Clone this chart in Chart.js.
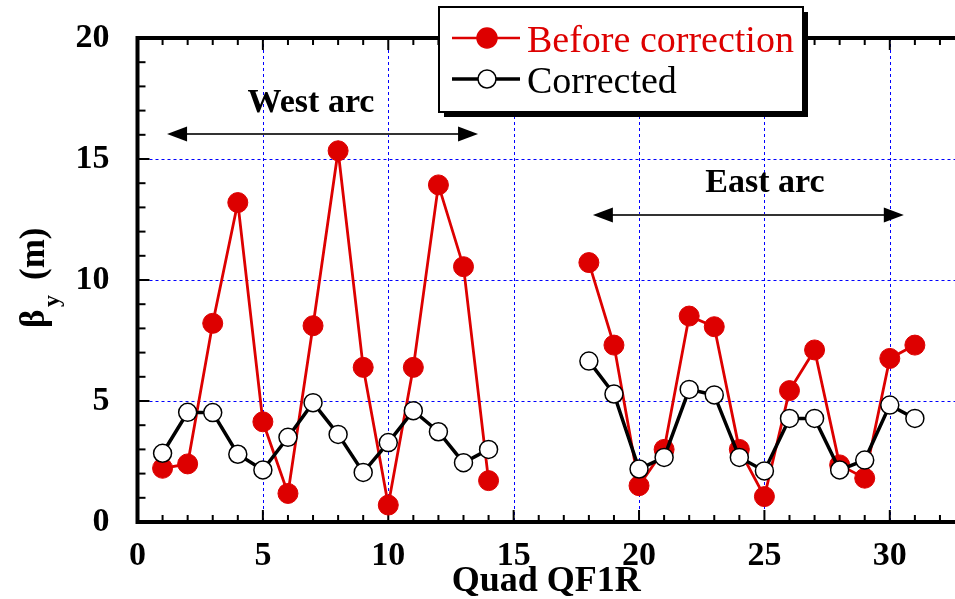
<!DOCTYPE html>
<html>
<head>
<meta charset="utf-8">
<script src="https://cdn.jsdelivr.net/npm/chart.js@4/dist/chart.umd.min.js"></script>
<style>
  html, body { margin: 0; padding: 0; background: #fff; }
  #wrap { width: 955px; height: 599px; }
</style>
</head>
<body>
<div id="wrap"><canvas id="betachart" width="955" height="599"></canvas></div>
<script>
// quad index along the ring (15-17 have no data)
const quads = [1, 2, 3, 4, 5, 6, 7, 8, 9, 10, 11, 12, 13, 14, 15, 16, 17,
               18, 19, 20, 21, 22, 23, 24, 25, 26, 27, 28, 29, 30, 31];
const beforeCorr = [2.22, 2.40, 8.21, 13.2, 4.14, 1.18, 8.11, 15.34, 6.39, 0.70, 6.39, 13.93, 10.55, 1.71,
                    null, null, null,
                    10.72, 7.31, 1.50, 3.00, 8.51, 8.07, 3.00, 1.05, 5.43, 7.11, 2.36, 1.81, 6.76, 7.31];
const corrected = [2.84, 4.53, 4.52, 2.80, 2.15, 3.50, 4.93, 3.62, 2.05, 3.28, 4.60, 3.73, 2.45, 3.00,
                   null, null, null,
                   6.65, 5.29, 2.19, 2.67, 5.48, 5.25, 2.67, 2.11, 4.28, 4.28, 2.15, 2.56, 4.83, 4.28];
const xTicks = [0, 5, 10, 15, 20, 25, 30];
const yTicks = [0, 5, 10, 15, 20];
// arc labels: [text, x from, x to, arrow y, text x, text y]
const arcs = [
  ['West arc', 1.18, 13.58, 16.03, 6.92, 16.94],
  ['East arc', 18.16, 30.56, 12.69, 25.02, 13.64]
];

const RED = '#dd0000';
const FONT = '"Liberation Serif", "Times New Roman", serif';

function pts(ys) {
  return quads.map((q, i) => ({x: q, y: ys[i]}));
}

const decor = {
  id: 'decor',
  beforeDatasetsDraw(chart) {
    const {ctx, chartArea: a, scales: {x, y}} = chart;
    ctx.save();
    // dotted blue grid
    ctx.strokeStyle = '#0000ff';
    ctx.lineWidth = 1;
    ctx.setLineDash([3, 3]);
    xTicks.slice(1).forEach(v => {
      const px = Math.round(x.getPixelForValue(v)) + 0.5;
      ctx.beginPath(); ctx.moveTo(px, a.top); ctx.lineTo(px, a.bottom); ctx.stroke();
    });
    yTicks.slice(1, -1).forEach(v => {
      const py = Math.round(y.getPixelForValue(v)) + 0.5;
      ctx.beginPath(); ctx.moveTo(a.left, py); ctx.lineTo(a.right, py); ctx.stroke();
    });
    ctx.setLineDash([]);
    ctx.strokeStyle = '#000';
    // minor and major ticks, inward
    ctx.lineWidth = 2;
    for (let v = 1; v <= 32; v++) {
      const px = x.getPixelForValue(v);
      const len = v % 5 === 0 ? 12 : 7;
      ctx.beginPath();
      ctx.moveTo(px, a.bottom); ctx.lineTo(px, a.bottom - len);
      ctx.moveTo(px, a.top); ctx.lineTo(px, a.top + len);
      ctx.stroke();
    }
    for (let v = 1; v < 20; v++) {
      const py = y.getPixelForValue(v);
      const len = v % 5 === 0 ? 12 : 8;
      ctx.beginPath();
      ctx.moveTo(a.left, py); ctx.lineTo(a.left + len, py);
      ctx.stroke();
    }
    // frame
    ctx.lineWidth = 4;
    ctx.beginPath();
    ctx.moveTo(a.right + 5, a.top);
    ctx.lineTo(a.left, a.top);
    ctx.lineTo(a.left, a.bottom);
    ctx.lineTo(a.right + 5, a.bottom);
    ctx.stroke();
    ctx.restore();
  },
  afterDraw(chart) {
    const {ctx, scales: {x, y}} = chart;
    ctx.save();
    // arc arrows and labels
    arcs.forEach(([txt, x0, x1, ay, tx, ty]) => {
      const p0 = x.getPixelForValue(x0), p1 = x.getPixelForValue(x1);
      const py = y.getPixelForValue(ay);
      ctx.strokeStyle = '#333';
      ctx.lineWidth = 2;
      ctx.beginPath();
      ctx.moveTo(p0 + 15, py); ctx.lineTo(p1 - 15, py);
      ctx.stroke();
      ctx.fillStyle = '#000';
      ctx.beginPath();
      ctx.moveTo(p0, py); ctx.lineTo(p0 + 20, py - 7.5); ctx.lineTo(p0 + 20, py + 7.5);
      ctx.closePath(); ctx.fill();
      ctx.beginPath();
      ctx.moveTo(p1, py); ctx.lineTo(p1 - 20, py - 7.5); ctx.lineTo(p1 - 20, py + 7.5);
      ctx.closePath(); ctx.fill();
      ctx.font = 'bold 34px ' + FONT;
      ctx.textAlign = 'center';
      ctx.textBaseline = 'alphabetic';
      ctx.fillText(txt, x.getPixelForValue(tx), y.getPixelForValue(ty));
    });

    // y axis title: beta_y (m)
    ctx.translate(44, 278);
    ctx.rotate(-Math.PI / 2);
    ctx.fillStyle = '#000';
    ctx.textAlign = 'left';
    ctx.font = 'bold 35px ' + FONT;
    ctx.fillText('β', -50, 0);
    ctx.font = 'bold 24px ' + FONT;
    ctx.fillText('y', -29, 15);
    ctx.font = 'bold 35px ' + FONT;
    ctx.fillText('(m)', -2, 0);
    ctx.setTransform(1, 0, 0, 1, 0, 0);

    // legend box with shadow
    const bx = 439, by = 7, bw = 364, bh = 105;
    ctx.fillStyle = '#000';
    ctx.fillRect(bx + 5, by + 5, bw, bh);
    ctx.fillStyle = '#fff';
    ctx.fillRect(bx, by, bw, bh);
    ctx.strokeStyle = '#000';
    ctx.lineWidth = 2;
    ctx.strokeRect(bx, by, bw, bh);
    const rows = [
      ['Before correction', RED, RED, 38, 52, 10, 2.5],
      ['Corrected', '#000', '#fff', 79, 93, 9, 3.5]
    ];
    rows.forEach(([txt, col, fill, ly, tb, r, lw]) => {
      ctx.strokeStyle = col;
      ctx.lineWidth = lw;
      ctx.beginPath();
      ctx.moveTo(452, ly); ctx.lineTo(520, ly);
      ctx.stroke();
      ctx.beginPath();
      ctx.arc(487, ly, r, 0, Math.PI * 2);
      ctx.fillStyle = fill;
      ctx.fill();
      ctx.lineWidth = 1.5;
      ctx.stroke();
      ctx.fillStyle = col;
      ctx.font = '38px ' + FONT;
      ctx.textAlign = 'left';
      ctx.fillText(txt, 527, tb);
    });
    ctx.restore();
  }
};

new Chart('betachart', {
  type: 'line',
  data: {
    datasets: [{
      label: 'Before correction',
      data: pts(beforeCorr),
      borderColor: RED,
      borderWidth: 2.8,
      pointBackgroundColor: RED,
      pointBorderColor: RED,
      pointRadius: 10,
      pointBorderWidth: 1,
      spanGaps: false,
      order: 2
    }, {
      label: 'Corrected',
      data: pts(corrected),
      borderColor: '#000',
      borderWidth: 3.5,
      pointBackgroundColor: '#fff',
      pointBorderColor: '#000',
      pointRadius: 9,
      pointBorderWidth: 1.5,
      spanGaps: false,
      order: 1
    }]
  },
  options: {
    responsive: false,
    animation: false,
    layout: {autoPadding: false, padding: {top: 38, right: 0, left: 0, bottom: 0}},
    plugins: {legend: {display: false}, tooltip: {enabled: false}},
    scales: {
      x: {
        type: 'linear',
        min: 0,
        max: 32.6,
        afterBuildTicks: s => { s.ticks = xTicks.map(v => ({value: v})); },
        afterFit: s => { s.height = 77; s.paddingLeft = 0; s.paddingRight = 0; },
        ticks: {
          font: {family: FONT, size: 34, weight: 'bold'},
          color: '#000',
          padding: 6
        },
        grid: {display: false},
        border: {display: false},
        title: {display: true, text: 'Quad QF1R', color: '#000',
                font: {family: FONT, size: 36, weight: 'bold'}, padding: {top: 0, bottom: -4}}
      },
      y: {
        min: 0,
        max: 20,
        afterBuildTicks: s => { s.ticks = yTicks.map(v => ({value: v})); },
        afterFit: s => { s.width = 137.5; s.paddingTop = 0; s.paddingBottom = 0; },
        ticks: {
          font: {family: FONT, size: 34, weight: 'bold'},
          color: '#000',
          padding: 20
        },
        grid: {display: false},
        border: {display: false}
      }
    }
  },
  plugins: [decor]
});
</script>
</body>
</html>
